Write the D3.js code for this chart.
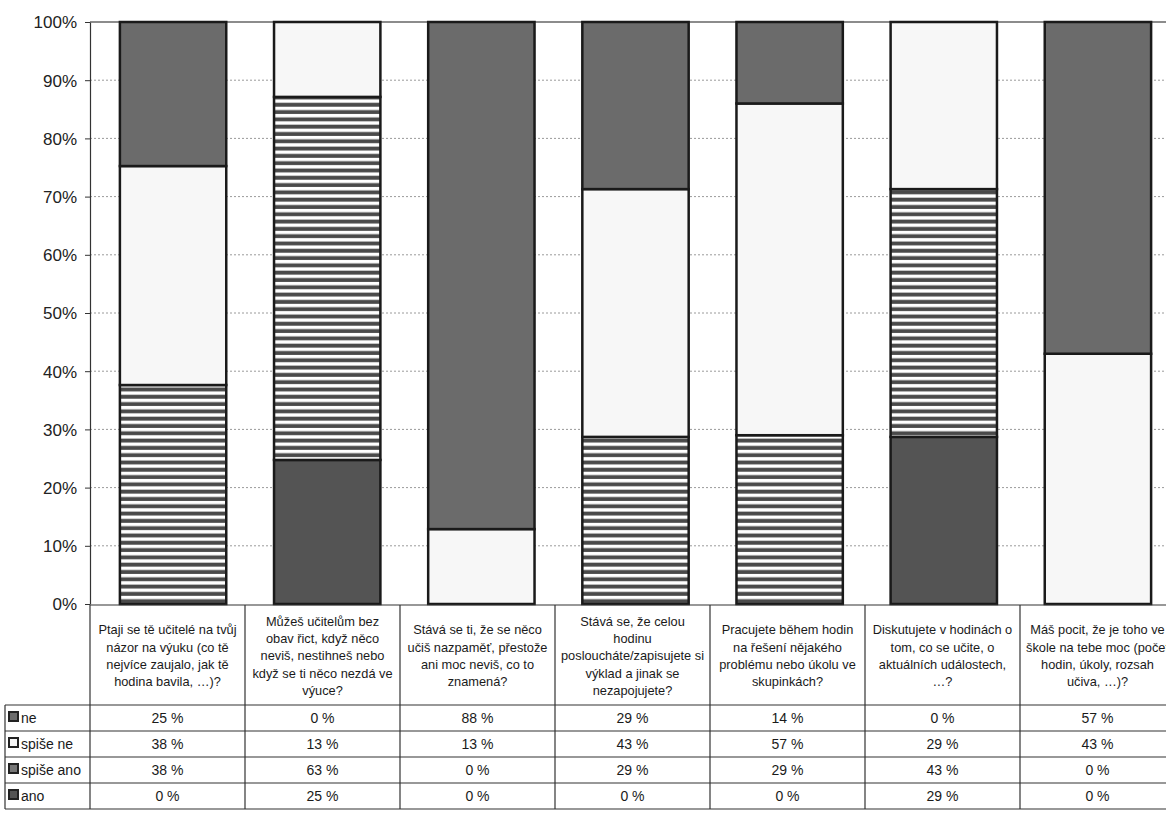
<!DOCTYPE html>
<html>
<head>
<meta charset="utf-8">
<script src="https://cdn.jsdelivr.net/npm/d3@7"></script>
<style>
  body { margin: 0; background: #fff; }
  svg { display: block; font-family: "Liberation Sans", Arial, sans-serif; }
</style>
</head>
<body>
<div id="chart"></div>
<script>
// categories (already broken into lines as in the table header)
const categories = [
  ["Ptaji se tě učitelé na tvůj", "názor na výuku  (co tě", "nejvíce zaujalo, jak tě", "hodina bavila, …)?"],
  ["Můžeš učitelům bez", "obav řict, když něco", "neviš, nestihneš nebo", "když se ti něco nezdá ve", "výuce?"],
  ["Stává se ti, že se něco", "učiš nazpaměť, přestože", "ani moc neviš, co to", "znamená?"],
  ["Stává se, že celou", "hodinu", "posloucháte/zapisujete si", "výklad a jinak se", "nezapojujete?"],
  ["Pracujete během hodin", "na řešení nějakého", "problému nebo úkolu ve", "skupinkách?"],
  ["Diskutujete v hodinách o", "tom, co se učite, o", "aktuálních událostech,", "…?"],
  ["Máš pocit, že je toho ve", "škole na tebe moc (počet", "hodin, úkoly, rozsah", "učiva, …)?"]
]
const seriesNames = ["ne", "spiše ne", "spiše ano", "ano"]
const ne       = [25, 0, 88, 29, 14, 0, 57]
const spiseNe  = [38, 13, 13, 43, 57, 29, 43]
const spiseAno = [38, 63, 0, 29, 29, 43, 0]
const ano      = [0, 25, 0, 0, 0, 29, 0]
const yTicks = [0, 0.1, 0.2, 0.3, 0.4, 0.5, 0.6, 0.7, 0.8, 0.9, 1]

const W = 1166, H = 813
const svg = d3.select('#chart').append('svg')
  .attr('width', W)
  .attr('height', H)

// fills
const defs = svg.append('defs')
const stripe = defs.append('pattern')
  .attr('id', 'stripes')
  .attr('patternUnits', 'userSpaceOnUse')
  .attr('width', 8).attr('height', 7.3)
stripe.append('rect').attr('width', 8).attr('height', 7.3).attr('fill', '#fff')
stripe.append('rect').attr('y', 0.6).attr('width', 8).attr('height', 3.9).attr('fill', '#4a4a4a')

const fills = {
  "ne": '#6b6b6b',
  "spiše ne": '#f7f7f7',
  "spiše ano": 'url(#stripes)',
  "ano": '#545454'
}

const rows = categories.map(function (c, i) {
  return { i: i, "ne": ne[i], "spiše ne": spiseNe[i], "spiše ano": spiseAno[i], "ano": ano[i] }
})

// bars sit a little right of the table columns, as in the scan
const x = d3.scaleBand()
  .domain(d3.range(categories.length))
  .range([96, 1175])
  .paddingInner(0.31)
  .paddingOuter(0.155)

// table columns
const xt = d3.scaleBand()
  .domain(d3.range(categories.length))
  .range([90, 1175])

const y = d3.scaleLinear()
  .domain([0, 1])
  .range([604, 22])

// gridlines
svg.append('g')
  .selectAll('line')
  .data(yTicks.filter(function (t) { return t > 0 }))
  .enter()
  .append('line')
  .attr('x1', 90).attr('x2', W)
  .attr('y1', function (t) { return y(t) })
  .attr('y2', function (t) { return y(t) })
  .attr('stroke', function (t) { return t === 1 ? '#666' : '#9a9a9a' })
  .attr('stroke-width', function (t) { return t === 1 ? 1.5 : 1 })
  .attr('stroke-dasharray', function (t) { return t === 1 ? null : '2,2' })

// y axis
const yAxis = svg.append('g')
  .attr('transform', 'translate(90,0)')
  .call(d3.axisLeft(y).tickValues(yTicks).tickFormat(d3.format('.0%')).tickSize(5).tickSizeOuter(0))
yAxis.select('.domain').attr('stroke', '#333').attr('stroke-width', 1.2)
yAxis.selectAll('.tick line').attr('stroke', '#333')
yAxis.selectAll('.tick text')
  .attr('x', -13)
  .attr('dy', '0.35em')
  .style('font-size', '17px')
  .style('font-family', '"Liberation Sans", Arial, sans-serif')
  .attr('fill', '#222')

// stacked bars, 100 %
const stack = d3.stack()
  .keys(["ano", "spiše ano", "spiše ne", "ne"])
  .offset(d3.stackOffsetExpand)

svg.append('g')
  .selectAll('g')
  .data(stack(rows))
  .enter()
  .append('g')
  .attr('fill', function (s) { return fills[s.key] })
  .selectAll('rect')
  .data(function (s) { return s.filter(function (d) { return d[1] - d[0] > 0 }) })
  .enter()
  .append('rect')
  .attr('x', function (d) { return x(d.data.i) })
  .attr('width', x.bandwidth())
  .attr('y', function (d) { return y(d[1]) })
  .attr('height', function (d) { return y(d[0]) - y(d[1]) })
  .attr('stroke', '#1a1a1a')
  .attr('stroke-width', 2.5)

// data table
const step = xt.step()
const tableTop = 605, headBottom = 705, rowH = 26, tableBottom = headBottom + rowH * 4
const grid = svg.append('g').attr('stroke', '#333').attr('stroke-width', 1.2)

grid.selectAll('line.v')
  .data(d3.range(categories.length + 1))
  .enter()
  .append('line')
  .attr('x1', function (i) { return 90 + i * step })
  .attr('x2', function (i) { return 90 + i * step })
  .attr('y1', tableTop).attr('y2', tableBottom)

grid.append('line').attr('x1', 5).attr('x2', 5).attr('y1', headBottom).attr('y2', tableBottom)
grid.selectAll('line.h')
  .data(d3.range(5))
  .enter()
  .append('line')
  .attr('x1', 5).attr('x2', W)
  .attr('y1', function (r) { return headBottom + r * rowH })
  .attr('y2', function (r) { return headBottom + r * rowH })
grid.append('line').attr('x1', 90).attr('x2', W).attr('y1', tableTop).attr('y2', tableTop)

// header text
const lineH = 17.2
const head = svg.append('g')
  .style('font-size', '12.8px')
  .attr('fill', '#1a1a1a')
  .attr('text-anchor', 'middle')

head.selectAll('text')
  .data(categories)
  .enter()
  .append('text')
  .attr('transform', function (lines, i) {
    const top = (tableTop + headBottom) / 2 - lines.length * lineH / 2
    return 'translate(' + (xt(i) + step / 2) + ',' + top + ')'
  })
  .selectAll('tspan')
  .data(function (lines) { return lines })
  .enter()
  .append('tspan')
  .attr('x', 0)
  .attr('y', function (l, j) { return (j + 0.75) * lineH + 1 })
  .text(function (l) { return l })

// value rows
const seriesVals = [ne, spiseNe, spiseAno, ano]
seriesVals.forEach(function (vals, r) {
  const cy = headBottom + r * rowH + rowH / 2 + 5
  const g = svg.append('g').style('font-size', '14px').attr('fill', '#1a1a1a')
  g.append('rect')
    .attr('x', 9).attr('y', cy - 11)
    .attr('width', 9).attr('height', 9)
    .attr('fill', r === 2 ? '#777' : fills[seriesNames[r]])
    .attr('stroke', '#222').attr('stroke-width', 2)
  g.append('text')
    .attr('x', 21).attr('y', cy)
    .text(seriesNames[r])
  g.selectAll('text.v')
    .data(vals)
    .enter()
    .append('text')
    .attr('text-anchor', 'middle')
    .attr('x', function (v, i) { return xt(i) + step / 2 })
    .attr('y', cy)
    .text(function (v) { return v + ' %' })
})
</script>
</body>
</html>
